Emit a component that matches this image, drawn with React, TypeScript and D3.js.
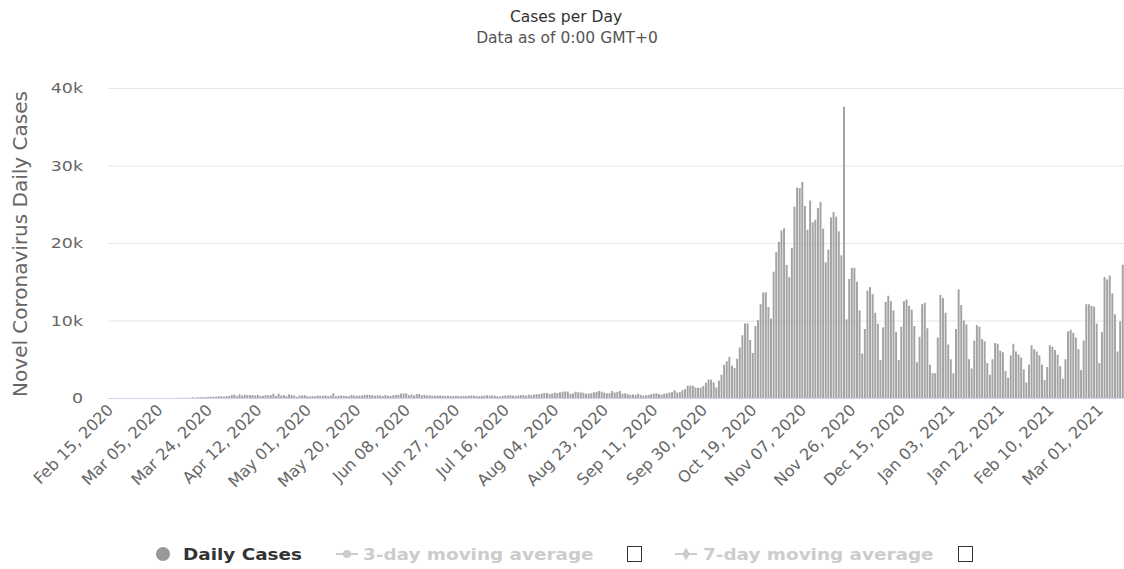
import React from 'react';
import * as d3 from 'd3';

// daily new cases, Feb 15 2020 .. Mar 10 2021
const feb2020 = [0, 0, 0, 0, 0, 0, 0, 0, 0, 0, 0, 0, 0, 0, 0];
const mar2020 = [0, 0, 0, 1, 0, 4, 1, 5, 6, 5, 9, 20, 17, 36, 14, 52, 27, 87, 46, 111, 111, 98, 115, 152, 150, 170, 168, 249, 224, 193, 256];
const apr2020 = [244, 392, 437, 244, 475, 311, 435, 357, 370, 380, 318, 401, 268, 270, 380, 336, 363, 545, 263, 545, 313, 381, 263, 460, 382, 316, 140, 321, 329, 380];
const may2020 = [247, 210, 260, 230, 307, 285, 295, 330, 215, 323, 595, 240, 285, 320, 300, 260, 230, 400, 320, 295, 310, 320, 390, 415, 400, 370, 290, 330, 340, 260, 380];
const jun2020 = [290, 292, 360, 380, 440, 576, 575, 599, 359, 440, 314, 500, 506, 340, 396, 300, 353, 278, 290, 306, 320, 302, 263, 285, 270, 240, 320, 260, 225, 271];
const jul2020 = [262, 300, 330, 290, 245, 230, 300, 300, 350, 300, 350, 280, 230, 200, 290, 320, 330, 360, 320, 280, 330, 360, 370, 300, 440, 350, 440, 510, 480, 560, 657];
const aug2020 = [658, 512, 580, 680, 640, 726, 809, 843, 830, 548, 600, 800, 726, 720, 680, 540, 587, 600, 730, 800, 903, 811, 700, 590, 620, 887, 700, 800, 900, 550, 600];
const sep2020 = [500, 400, 450, 400, 550, 400, 300, 350, 400, 500, 550, 600, 500, 450, 550, 600, 700, 750, 1000, 700, 750, 1000, 1136, 1587, 1584, 1587, 1350, 1306, 1326, 1552];
const oct2020 = [1967, 2382, 2367, 2006, 1352, 2236, 3003, 4280, 4739, 5300, 4178, 3866, 5068, 6526, 8099, 9622, 9622, 7482, 5816, 9291, 10040, 12107, 13632, 13628, 11742, 10241, 16300, 18820, 20156, 21629, 21897];
const nov2020 = [17171, 15578, 19364, 24692, 27143, 27086, 27875, 24785, 21713, 25484, 22683, 23000, 24500, 25300, 21854, 17500, 19152, 23300, 23975, 23400, 21500, 18400, 37596, 10139, 15362, 16800, 16800, 15000, 11300, 5733];
const dec2020 = [8900, 13855, 14300, 13400, 11000, 9600, 4900, 9100, 12400, 13200, 12500, 11300, 8500, 4900, 9200, 12500, 12700, 11900, 11400, 9300, 4600, 7900, 12100, 12300, 9000, 4300, 3200, 3200, 7800, 13300, 12900];
const jan2021 = [11000, 6900, 5000, 3200, 8900, 14000, 12000, 10000, 9500, 5000, 3800, 7400, 9400, 9200, 7600, 7300, 4500, 3000, 5000, 7100, 7000, 6100, 5900, 3500, 2600, 5500, 7000, 6000, 5600, 5200, 3700];
const feb2021 = [2000, 4300, 6800, 6300, 6000, 5500, 4300, 2300, 4000, 6800, 6600, 6200, 5600, 4100, 2500, 5000, 8600, 8800, 8400, 7800, 6300, 3600, 7400, 12100, 12100, 11900, 11800, 9600];
const mar2021 = [4500, 8500, 15600, 15300, 15800, 13500, 10800, 6000, 9900, 17200];

const yTicks = [0, 10000, 20000, 30000, 40000];
const yTickLabels = ['0', '10k', '20k', '30k', '40k'];
const labelEvery = 19;

const dailyCases = [
  ...feb2020, ...mar2020, ...apr2020, ...may2020, ...jun2020, ...jul2020,
  ...aug2020, ...sep2020, ...oct2020, ...nov2020, ...dec2020,
  ...jan2021, ...feb2021, ...mar2021,
];
const dates = d3.timeDay.range(new Date(2020, 1, 15), new Date(2021, 2, 11));

const font = '"DejaVu Sans", Verdana, sans-serif';
// horizontal text in the screenshot is slightly stretched sideways
const sx = 1.15;

const App = () => {
  const width = 1124;
  const height = 569;
  const left = 108, right = 1124, top = 88, bottom = 398;

  const x = d3.scaleBand<number>()
    .domain(dates.map((_, i) => i))
    .range([left, right])
    .paddingInner(0.25)
    .paddingOuter(0.1);

  const y = d3.scaleLinear().domain([0, 40000]).range([bottom, top]);
  const fmt = d3.timeFormat('%b %d, %Y');

  const labelIdx = dates.map((_, i) => i).filter(i => i % labelEvery === 0);

  return (
    <svg width={width} height={height} style={{ position: 'absolute', left: 0, top: 0, background: '#fff' }} fontFamily={font}>
      <text x={566} y={22} textAnchor="middle" fontSize={15.5} fill="#333">Cases per Day</text>
      <text x={567} y={43} textAnchor="middle" fontSize={15.5} fill="#555">Data as of 0:00 GMT+0</text>

      {/* grid + y labels */}
      {yTicks.map((t, i) => (
        <g key={t}>
          {t > 0 && <line x1={left} x2={right} y1={y(t) + 0.5} y2={y(t) + 0.5} stroke="#e6e6e6" />}
          <text transform={`translate(83,${y(t) + 5}) scale(1.2,1)`} textAnchor="end" fontSize={14.5} fill="#666">{yTickLabels[i]}</text>
        </g>
      ))}
      <text transform={`translate(27,${(top + bottom) / 2 + 1}) rotate(-90)`} textAnchor="middle" fontSize={20} fill="#666">
        Novel Coronavirus Daily Cases
      </text>

      {/* bars */}
      {dailyCases.map((v, i) => (
        <rect key={i} x={x(i)} y={y(v)} width={x.bandwidth()} height={bottom - y(v)} fill="#a3a3a3" />
      ))}
      <line x1={left} x2={right} y1={bottom + 0.5} y2={bottom + 0.5} stroke="#ccd6eb" />

      {/* x labels */}
      {labelIdx.map(i => {
        const cx = (x(i) as number) + x.bandwidth() / 2;
        return (
          <text key={i} transform={`translate(${cx + 5},${bottom + 13}) rotate(-45)`} textAnchor="end" fontSize={16} fill="#666">
            {fmt(dates[i])}
          </text>
        );
      })}

      {/* legend */}
      <g fontWeight="bold" fontSize={16}>
        <circle cx={163} cy={554} r={7} fill="#999" />
        <text transform={`translate(183,560) scale(${sx},1)`} fill="#333">Daily Cases</text>
        <line x1={336} x2={358} y1={554} y2={554} stroke="#ccc" strokeWidth={2} />
        <circle cx={347} cy={554} r={4} fill="#ccc" />
        <text transform={`translate(363,560) scale(${sx},1)`} fill="#ccc">3-day moving average</text>
        <rect x={627.5} y={546.5} width={14} height={15} fill="#fff" stroke="#333" />
        <line x1={675} x2={697} y1={554} y2={554} stroke="#ccc" strokeWidth={2} />
        <path d={d3.symbol(d3.symbolDiamond, 50)() as string} transform="translate(686,554)" fill="#ccc" />
        <text transform={`translate(703,560) scale(${sx},1)`} fill="#ccc">7-day moving average</text>
        <rect x={958.5} y={546.5} width={14} height={15} fill="#fff" stroke="#333" />
      </g>
    </svg>
  );
};

export default App;
